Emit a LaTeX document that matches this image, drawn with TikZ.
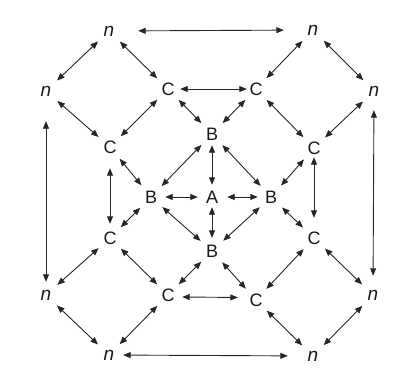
\documentclass[tikz,border=0pt]{standalone}
\usepackage{fontspec}
\setmainfont{Liberation Sans}
\usetikzlibrary{arrows.meta,calc}
\begin{document}
\begin{tikzpicture}[x=1pt,y=-1pt,
  lbl/.style={circle,minimum size=30pt,inner sep=0pt,font=\fontsize{18}{18}\selectfont,text=black!90},
  nl/.style={lbl,font=\fontsize{19}{19}\selectfont\itshape},
  link/.style={{Triangle[length=7.5pt,width=6pt]}-{Triangle[length=7.5pt,width=6pt]},line width=0.9pt,draw=black!85}]
\useasboundingbox (0,0) rectangle (419,374);
% outer n nodes
\node[nl] (nTL) at (109,31) {n};
\node[nl] (nTR) at (313,30) {n};
\node[nl] (nL)  at (46,91) {n};
\node[nl] (nR)  at (374,91) {n};
\node[nl] (nBL) at (46,295) {n};
\node[nl] (nBR) at (373,295) {n};
\node[nl] (nB1) at (109,355) {n};
\node[nl] (nB2) at (313,356) {n};
% C nodes
\node[lbl] (C1) at (168,89) {C};
\node[lbl] (C2) at (256,89) {C};
\node[lbl] (C3) at (110,147) {C};
\node[lbl] (C4) at (314,148) {C};
\node[lbl] (C5) at (110,238) {C};
\node[lbl] (C6) at (314,238) {C};
\node[lbl] (C7) at (168,295) {C};
\node[lbl] (C8) at (256,300) {C};
% B and A nodes
\node[lbl] (B1) at (212,134) {B};
\node[lbl] (BL) at (151,197) {B};
\node[lbl] (A)  at (212,197) {A};
\node[lbl] (BR) at (271,197) {B};
\node[lbl] (BB) at (212,251) {B};
% outer ring
\draw[link,shorten <=14pt,shorten >=14pt] (nTL) -- (nTR);
\draw[link] (nTL) -- (nL);
\draw[link] (nTR) -- (nR);
\draw[link,shorten <=15pt,shorten >=-2pt] (nL) -- (nBL);
\draw[link,shorten <=4pt,shorten >=4pt] (nR) -- (nBR);
\draw[link] (nBL) -- (nB1);
\draw[link] (nBR) -- (nB2);
\draw[link,shorten <=-1pt,shorten >=10pt] (nB1) -- (nB2);
% n to C
\draw[link] (nTL) -- (C1);
\draw[link] (nTR) -- (C2);
\draw[link] (nL) -- (C3);
\draw[link] (nR) -- (C4);
\draw[link] (C5) -- (nBL);
\draw[link] (C6) -- (nBR);
\draw[link] (C7) -- (nB1);
\draw[link] (C8) -- (nB2);
% C ring
\draw[link,shorten <=-3pt,shorten >=-6pt] (C1) -- (C2);
\draw[link] (C1) -- (C3);
\draw[link] (C2) -- (C4);
\draw[link,shorten <=6pt,shorten >=-1pt] (C3) -- (C5);
\draw[link,shorten <=-6pt,shorten >=5pt] (C4) -- (C6);
\draw[link] (C5) -- (C7);
\draw[link] (C6) -- (C8);
\draw[link,shorten <=-1pt,shorten >=3pt] ($(C7.east)+(0,2)$) -- ($(C8.west)+(0,-2.5)$);
% C to B
\draw[link] (C1) -- (B1);
\draw[link] (C2) -- (B1);
\draw[link] (C3) -- (BL);
\draw[link] (C4) -- (BR);
\draw[link] (BL) -- (C5);
\draw[link] (BR) -- (C6);
\draw[link] (BB) -- (C7);
\draw[link] (BB) -- (C8);
% B ring
\draw[link] (B1) -- (BL);
\draw[link] (B1) -- (BR);
\draw[link] (BL) -- (BB);
\draw[link] (BR) -- (BB);
% A spokes
\draw[link,shorten <=-4pt,shorten >=-3pt] (B1) -- (A);
\draw[link,shorten <=-1pt,shorten >=-1pt] (BL) -- (A);
\draw[link,shorten >=-2pt] (A) -- (BR);
\draw[link,shorten <=-5pt,shorten >=-2pt] (A) -- (BB);
\end{tikzpicture}
\end{document}
